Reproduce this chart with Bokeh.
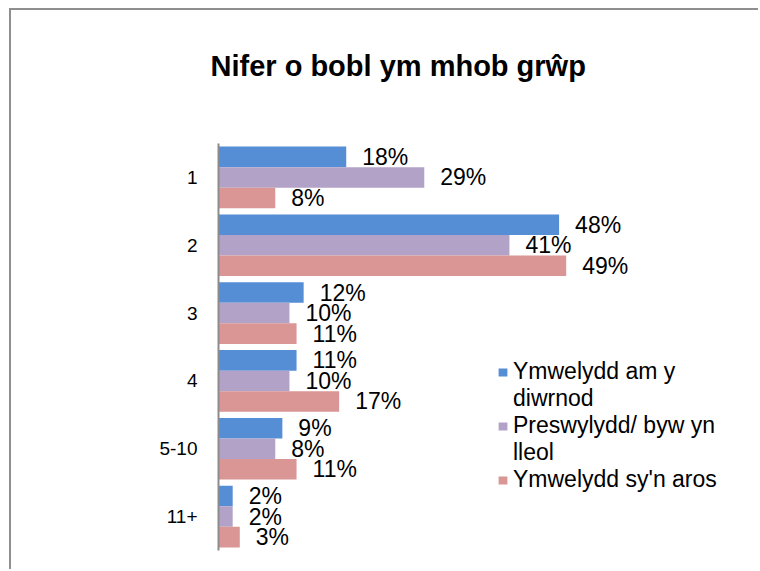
from bokeh.plotting import figure
from bokeh.layouts import column
from bokeh.models import ColumnDataSource, FactorRange, Range1d, Legend, LegendItem, Title
from bokeh.transform import dodge
from bokeh.core.properties import value
from bokeh.embed import file_html
from bokeh.resources import INLINE

# ---- data ----
categories = ["1", "2", "3", "4", "5-10", "11+"]
series_names = ["Ymwelydd am y diwrnod", "Preswylydd/ byw yn lleol", "Ymwelydd sy'n aros"]
# legend labels as wrapped in the reference (first line, continuation line)
legend_lines = [["Ymwelydd am y", "diwrnod"], ["Preswylydd/ byw yn", "lleol"], ["Ymwelydd sy'n aros"]]
day_visitor = [18, 48, 12, 11, 9, 2]
resident = [29, 41, 10, 10, 8, 2]
staying_visitor = [8, 49, 11, 17, 11, 3]
colors = ["#558ED5", "#B3A2C7", "#D99694"]
title_text = "Nifer o bobl ym mhob grŵp"

FONT = "Liberation Sans"

src = ColumnDataSource(dict(
    cat=categories,
    day=day_visitor,
    res=resident,
    stay=staying_visitor,
    day_lbl=[f"{v}%" for v in day_visitor],
    res_lbl=[f"{v}%" for v in resident],
    stay_lbl=[f"{v}%" for v in staying_visitor],
))

# canvas placed at page (11, 10): 9px/8px offset + 2px chart border
p = figure(
    width=749, height=561,
    y_range=FactorRange(*reversed(categories)),
    x_range=Range1d(0, 76.1),
    output_backend="svg", toolbar_location=None,
    min_border_left=207, min_border_right=0,
    min_border_top=133, min_border_bottom=19,
    title=title_text,
)

p.title.text_font = FONT
p.title.text_font_size = "29px"
p.title.text_font_style = "bold"
p.title.text_color = "#000000"
p.title.align = "left"
p.title.offset = -8
p.title.standoff = 10

# invisible spacer between the title and the plot area
p.add_layout(Title(text="\u00a0", text_font_size="10px", text_color="#ffffff", standoff=44), "above")

p.outline_line_color = None
p.xgrid.visible = False
p.ygrid.visible = False
p.xaxis.visible = False

ya = p.yaxis[0]
ya.axis_line_color = "#8c8c8c"
ya.axis_line_width = 2
ya.major_tick_line_color = None
ya.minor_tick_line_color = None
ya.major_label_text_font = FONT
ya.major_label_text_font_size = "19px"
ya.major_label_text_color = "#000000"
ya.major_label_standoff = 15

bar_h = 0.303
offsets = [bar_h, 0.0, -bar_h]
fields = ["day", "res", "stay"]
renderers = []
for f, off, c in zip(fields, offsets, colors):
    r = p.hbar(y=dodge("cat", off, range=p.y_range), left=0, right=f, height=bar_h,
               source=src, fill_color=c, line_color=None)
    renderers.append(r)
    p.text(x=f, y=dodge("cat", off, range=p.y_range), text=f + "_lbl", source=src,
           x_offset=16, text_baseline="middle", text_align="left",
           text_font=value(FONT), text_font_size="23px", text_color="#000000")

# invisible renderer used for the wrapped continuation lines of the legend
blank = p.hbar(y=[], right=[], height=bar_h, fill_alpha=0, line_alpha=0)

items = []
for lines, r in zip(legend_lines, renderers):
    items.append(LegendItem(label=lines[0], renderers=[r]))
    for extra in lines[1:]:
        items.append(LegendItem(label=extra, renderers=[blank]))

legend = Legend(
    items=items,
    location=(279, 57),
    glyph_width=11, glyph_height=10, label_standoff=5,
    padding=0, margin=0, spacing=0,
    border_line_color=None, background_fill_alpha=0,
    label_text_font=FONT, label_text_font_size="23px", label_text_color="#000000",
)
p.add_layout(legend)

page = column(p, width=749, height=561,
              styles={"margin-left": "9px", "margin-top": "8px", "overflow": "hidden",
                      "border-top": "2px solid #8f8f8f", "border-left": "2px solid #8f8f8f"})

open("out.html", "w").write(file_html(page, INLINE))
